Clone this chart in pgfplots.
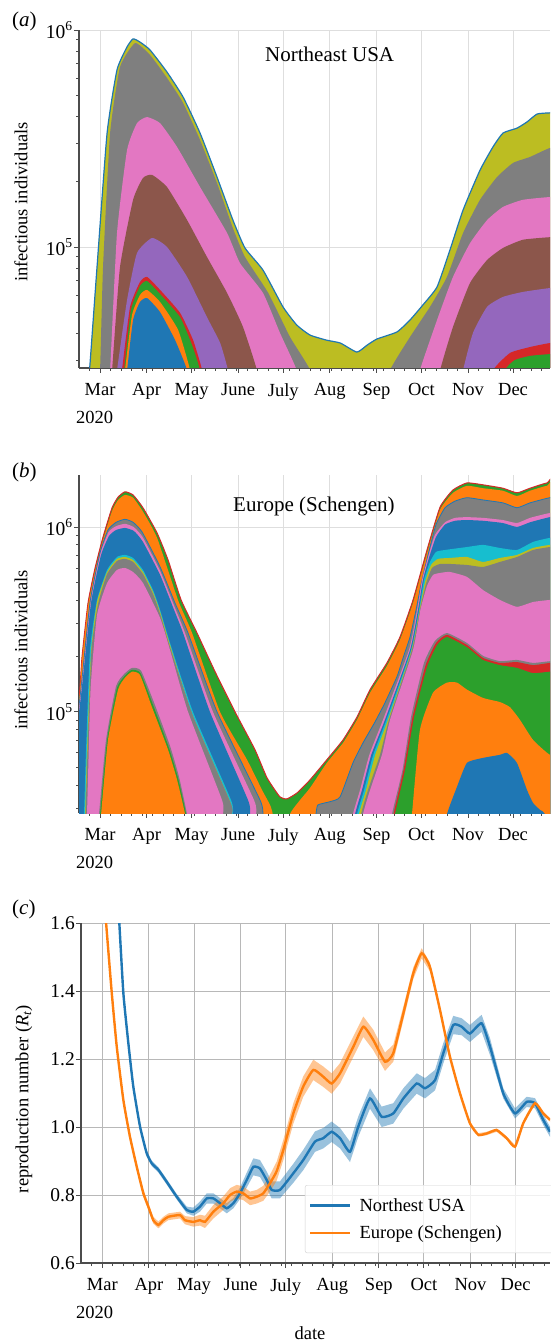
\documentclass[border=0pt]{standalone}
\usepackage{fontspec}
\setmainfont{Liberation Serif}
\usepackage{pgfplots}
\pgfplotsset{compat=1.18}
\usepackage{pgfplotstable}
\usepgfplotslibrary{fillbetween}

\definecolor{tblue}{HTML}{1F77B4}
\definecolor{torange}{HTML}{FF7F0E}
\definecolor{tgreen}{HTML}{2CA02C}
\definecolor{tred}{HTML}{D62728}
\definecolor{tpurple}{HTML}{9467BD}
\definecolor{tbrown}{HTML}{8C564B}
\definecolor{tpink}{HTML}{E377C2}
\definecolor{tgray}{HTML}{7F7F7F}
\definecolor{tolive}{HTML}{BCBD22}
\definecolor{tcyan}{HTML}{17BECF}

% reproduction number, Northeast USA (x = days since 1 Mar 2020)
\pgfplotstableread{
x y lo hi
8.7 1.800 1.792 1.808
11.3 1.600 1.592 1.608
14.0 1.393 1.385 1.401
17.3 1.247 1.239 1.255
20.6 1.119 1.111 1.127
25.1 1.001 0.993 1.009
29.5 0.923 0.915 0.931
32.9 0.893 0.885 0.901
37.3 0.874 0.866 0.882
42.8 0.839 0.831 0.847
49.5 0.795 0.787 0.803
56.2 0.756 0.746 0.766
60.5 0.751 0.739 0.763
65.0 0.766 0.751 0.781
69.5 0.790 0.775 0.805
73.9 0.790 0.775 0.805
78.3 0.776 0.761 0.791
82.8 0.761 0.746 0.776
87.2 0.776 0.761 0.791
91.6 0.805 0.788 0.822
96.1 0.844 0.822 0.866
100.5 0.883 0.858 0.908
104.9 0.878 0.853 0.903
109.4 0.844 0.819 0.869
112.7 0.815 0.790 0.840
118.2 0.815 0.790 0.840
127.1 0.864 0.836 0.892
133.7 0.903 0.873 0.933
141.5 0.957 0.927 0.987
147.0 0.967 0.937 0.997
152.6 0.986 0.956 1.016
158.2 0.967 0.937 0.997
164.8 0.927 0.897 0.957
170.3 1.001 0.971 1.031
178.1 1.084 1.054 1.114
185.9 1.030 1.000 1.060
193.6 1.040 1.010 1.070
200.3 1.084 1.054 1.114
209.2 1.128 1.098 1.158
214.7 1.114 1.084 1.144
221.4 1.138 1.108 1.168
226.9 1.217 1.187 1.247
233.5 1.300 1.273 1.327
239.1 1.295 1.270 1.320
244.6 1.275 1.250 1.300
252.4 1.305 1.280 1.330
258.0 1.236 1.211 1.261
266.8 1.099 1.084 1.114
274.6 1.040 1.025 1.055
282.4 1.074 1.059 1.089
287.9 1.070 1.055 1.085
293.4 1.021 1.006 1.036
297.9 0.986 0.971 1.001
}\usa

% reproduction number, Europe (Schengen)
\pgfplotstableread{
x y lo hi
0.0 1.740 1.730 1.750
2.5 1.600 1.590 1.610
6.3 1.393 1.383 1.403
9.6 1.236 1.226 1.246
14.0 1.079 1.069 1.089
18.4 0.971 0.961 0.981
22.9 0.883 0.873 0.893
27.3 0.805 0.795 0.815
30.6 0.766 0.756 0.776
33.9 0.726 0.716 0.736
37.3 0.712 0.702 0.722
40.6 0.726 0.716 0.736
43.9 0.736 0.726 0.746
51.7 0.741 0.731 0.751
55.0 0.726 0.714 0.738
60.5 0.721 0.707 0.735
65.0 0.726 0.710 0.742
68.3 0.721 0.703 0.739
73.9 0.751 0.731 0.771
80.5 0.776 0.756 0.796
85.0 0.800 0.780 0.820
89.4 0.810 0.790 0.830
93.8 0.805 0.785 0.825
98.3 0.790 0.770 0.810
102.7 0.795 0.775 0.815
107.1 0.805 0.783 0.827
111.6 0.835 0.810 0.860
116.0 0.870 0.842 0.898
120.4 0.932 0.902 0.962
127.1 1.040 1.010 1.070
133.7 1.119 1.089 1.149
140.4 1.168 1.138 1.198
147.0 1.148 1.118 1.178
152.6 1.128 1.098 1.158
158.2 1.158 1.128 1.188
167.0 1.236 1.206 1.266
173.7 1.295 1.265 1.325
180.3 1.256 1.226 1.286
188.1 1.192 1.165 1.219
193.6 1.217 1.192 1.242
200.3 1.334 1.314 1.354
206.9 1.452 1.435 1.469
212.5 1.511 1.496 1.526
218.0 1.471 1.458 1.484
224.7 1.344 1.334 1.354
231.3 1.207 1.200 1.214
238.0 1.099 1.094 1.104
244.6 1.011 1.006 1.016
250.2 0.977 0.972 0.982
255.8 0.981 0.976 0.986
262.4 0.991 0.986 0.996
269.1 0.967 0.962 0.972
274.6 0.942 0.937 0.947
280.1 1.011 1.006 1.016
287.9 1.070 1.065 1.075
293.4 1.040 1.035 1.045
297.9 1.021 1.016 1.026
}\eur

\pgfplotsset{
  panel/.style={
    scale only axis, width=471pt, height=338pt,
    axis lines=left, axis line style={-, draw=black!70, line width=1.1pt},
    tick align=outside, major tick length=5pt, minor tick length=3pt,
    tick style={draw=black!70, line width=0.9pt},
    xmin=-14, xmax=299.6,
    xtick={0,31,61,92,122,153,184,214,245,275},
    xticklabels={Mar,Apr,May,June,July,Aug,Sep,Oct,Nov,Dec},
    minor xtick={-7,7,14,...,294},
    xmajorgrids, ymajorgrids,
    grid style={draw=black!13, line width=0.9pt},
    tick label style={font=\fontsize{18.5}{22}\selectfont},
    yticklabel style={font=\fontsize{19.5}{23}\selectfont, inner xsep=1pt},
    xticklabel style={yshift=-7pt},
  },
  area/.style={draw=none, fill=#1, smooth, tension=0.3},
}

\newcommand{\lab}{\fontsize{18.5}{22}\selectfont}
\newcommand{\bigfont}{\fontsize{21}{25}\selectfont}

\begin{document}
\begin{tikzpicture}

% ---------------- (a) Northeast USA
\begin{axis}[panel, at={(79pt,-368pt)}, anchor=south west,
  ymode=log, ymin=2.77e4, ymax=1e6,
  ytick={1e5,1e6}, yticklabels={10\textsuperscript{5},10\textsuperscript{6}},
  minor ytick={3e4,4e4,5e4,6e4,7e4,8e4,9e4,2e5,3e5,4e5,5e5,6e5,7e5,8e5,9e5}]
\addplot[fill=tolive, draw=tblue, line width=1.2pt, smooth, tension=0.3] coordinates {
 (-20,2e4) (-9,2e4) (-7,2.7e4) (-2,8.09e4) (4.7,3.35e5) (11.3,6.55e5) (18,8.36e5) (22,9.1e5)
 (26.6,8.8e5) (33.3,8.09e5) (44.6,6.4e5) (55.3,4.91e5) (66.6,3.35e5) (77.9,2.1e5)
 (88.5,1.33e5) (96.5,9.9e4) (108.5,7.83e4) (121.8,5.3e4) (131,4.37e4) (139.8,3.93e4)
 (151,3.72e4) (160,3.61e4) (171,3.28e4) (177.8,3.53e4) (184.4,3.77e4) (197.7,4.06e4)
 (206.4,4.61e4) (215,5.41e4) (224.4,6.55e4) (233,9.7e4) (241.7,1.48e5) (253,2.26e5)
 (261.6,2.89e5) (268.3,3.35e5) (277.6,3.53e5) (284.3,3.77e5) (291,4.1e5) (299.6,4.15e5)
 (310,4.15e5) (310,2e4)};
\addplot[area=tgray] coordinates {
 (-20,2e4) (-2,2e4) (0,2.7e4) (2,8.1e4) (6.7,3.35e5) (13.3,6.75e5) (23.3,8.7e5) (33.3,7.67e5)
 (44.6,6.01e5) (55.3,4.61e5) (66.6,3.11e5) (77.9,1.97e5) (88.5,1.22e5) (96.5,9.0e4)
 (112,6.14e4) (126.5,3.85e4) (140,2.7e4) (142,2e4) (191,2e4) (193,2.7e4) (206.4,3.85e4)
 (219.7,5.3e4) (231,7.28e4) (241.7,1.16e5) (253,1.65e5) (264.3,2.1e5) (275,2.44e5)
 (286.3,2.6e5) (299.6,2.86e5) (310,2.86e5) (310,2e4)};
\addplot[area=tpink] coordinates {
 (-20,2e4) (4.7,2e4) (6.7,2.7e4) (11.3,1.16e5) (18,2.8e5) (24.6,3.72e5) (31.3,3.97e5)
 (40,3.72e5) (51.3,2.89e5) (66.6,1.89e5) (84.6,1.16e5) (93.2,8.43e4) (108.5,6.14e4)
 (119.8,4.02e4) (131,2.7e4) (133,2e4) (211,2e4) (213,2.7e4) (224.4,4.61e4) (235,7.28e4)
 (246.3,1.04e5) (257.7,1.33e5) (268.3,1.53e5) (281.6,1.65e5) (299.6,1.7e5) (310,1.7e5)
 (310,2e4)};
\addplot[area=tbrown] coordinates {
 (-20,2e4) (6,2e4) (8,2.7e4) (13.3,8.09e4) (22,1.65e5) (28.6,2.08e5) (34.6,2.15e5)
 (44.6,1.89e5) (58,1.33e5) (71.2,9.0e4) (84.6,6.14e4) (95.2,4.28e4) (104.5,2.7e4)
 (106.5,2e4) (224.4,2e4) (226.4,2.7e4) (235,4.28e4) (246.3,6.82e4) (257.7,8.71e4)
 (268.3,9.9e4) (281.6,1.08e5) (299.6,1.11e5) (310,1.11e5) (310,2e4)};
\addplot[area=tpurple] coordinates {
 (-20,2e4) (9.3,2e4) (11.3,2.7e4) (18,5.7e4) (24.6,9.38e4) (34.6,1.1e5) (44.6,1.0e5)
 (58,7.28e4) (71.2,4.75e4) (80,3.61e4) (85.2,2.7e4) (87.2,2e4) (239.7,2e4) (241.7,2.7e4)
 (248.3,4.02e4) (257.7,5.3e4) (268.3,5.89e4) (281.6,6.21e4) (299.6,6.47e4)
 (310,6.47e4) (310,2e4)};
\addplot[area=tred] coordinates {
 (-20,2e4) (12.6,2e4) (14.6,2.7e4) (20,5.3e4) (26.6,6.9e4) (31.3,7.28e4) (40,6.34e4)
 (53.3,4.97e4) (62,3.72e4) (68,2.7e4) (70,2e4) (259.6,2e4) (261.6,2.7e4) (273,3.25e4)
 (286.3,3.46e4) (299.6,3.61e4) (310,3.61e4) (310,2e4)};
\addplot[area=tgreen] coordinates {
 (-20,2e4) (14,2e4) (16,2.7e4) (20.6,5.13e4) (26.6,6.61e4) (31.3,6.97e4) (40,6.07e4)
 (53.3,4.75e4) (61.3,3.53e4) (66.6,2.7e4) (68.6,2e4) (267.6,2e4) (269.6,2.7e4) (276,3.01e4)
 (286.3,3.15e4) (299.6,3.21e4) (310,3.21e4) (310,2e4)};
\addplot[area=torange] coordinates {
 (-20,2e4) (14.6,2e4) (16.6,2.7e4) (21.3,4.86e4) (26.6,6.01e4) (31.3,6.34e4) (40,5.58e4)
 (52,4.15e4) (60,2.7e4) (62,2e4) (310,2e4)};
\addplot[area=tblue] coordinates {
 (-20,2e4) (16,2e4) (18,2.7e4) (22,4.61e4) (26.6,5.58e4) (31.3,5.82e4) (40,5.01e4)
 (50,3.72e4) (58,2.7e4) (60,2e4) (310,2e4)};
\end{axis}

% ---------------- (b) Europe (Schengen)
\begin{axis}[panel, at={(79pt,-813pt)}, anchor=south west,
  ymode=log, ymin=2.84e4, ymax=1.91e6,
  ytick={1e5,1e6}, yticklabels={10\textsuperscript{5},10\textsuperscript{6}},
  minor ytick={3e4,4e4,5e4,6e4,7e4,8e4,9e4,2e5,3e5,4e5,5e5,6e5,7e5,8e5,9e5}]
\addplot[fill=tgreen, draw=tred, line width=1pt, smooth, tension=0.3] coordinates {
 (-20,2e4) (-20,1.0e5) (-14,1.21e5) (-12,1.98e5) (-8,3.88e5) (-3.3,6.0e5) (2,8.83e5)
 (8,1.27e6) (12,1.45e6) (16.6,1.55e6) (22,1.49e6) (28.6,1.27e6) (38,9.28e5)
 (45.3,6.63e5) (54,4.03e5) (64.6,2.67e5) (76.6,1.65e5) (89.9,1.0e5) (103.2,6.24e4)
 (111.2,4.4e4) (119.8,3.47e4) (124.5,3.39e4) (131.2,3.65e4) (139.8,4.29e4) (151,5.51e4)
 (161.8,7.06e4) (171.1,9.39e4) (179.8,1.32e5) (191,1.84e5) (199.7,2.54e5) (208.4,4.03e5)
 (217.7,7.51e5) (226.4,1.28e6) (235,1.585e6) (244.3,1.73e6) (255,1.69e6) (268.3,1.62e6)
 (277.6,1.53e6) (286.3,1.62e6) (297.6,1.73e6) (310,1.75e6) (310,2e4)};
\addplot[area=torange] coordinates {
 (-20,2e4) (-20,0.96e5) (-14,1.16e5) (-12,1.91e5) (-8,3.74e5) (-3.3,5.79e5) (2,8.51e5)
 (8,1.22e6) (12,1.40e6) (16.6,1.49e6) (22,1.44e6) (28.6,1.21e6) (38,8.73e5)
 (51.9,4.03e5) (61.3,2.67e5) (79.9,1.0e5) (97.9,5.51e4) (107.9,3.78e4) (113.2,3.14e4)
 (115,2.8e4) (117,2e4) (124.5,2e4) (126.5,2.8e4) (133.2,3.34e4) (139.8,3.88e4) (151,5.30e4)
 (161.8,6.80e4) (171.1,9.06e4) (179.8,1.27e5) (191,1.77e5) (199.7,2.45e5) (208.4,3.88e5)
 (217.7,7.23e5) (226.4,1.24e6) (235,1.53e6) (244.3,1.67e6) (255,1.62e6) (268.3,1.57e6)
 (277.6,1.47e6) (286.3,1.57e6) (297.6,1.67e6) (310,1.69e6) (310,2e4)};
\addplot[fill=tgray, draw=tblue, line width=0.8pt, smooth, tension=0.3] coordinates {
 (-20,2e4) (-20,0.9e5) (-14,1.08e5) (-6.7,3.88e5) (0,7.23e5) (5.3,9.63e5) (10.7,1.06e6)
 (16.6,1.10e6) (22,1.06e6) (28,9.39e5) (40,6.08e5) (49.9,3.88e5) (58.6,2.67e5)
 (77.9,1.0e5) (106.5,3.34e4) (108.5,2.8e4) (110.5,2e4) (141.8,2e4) (143.8,2.8e4)
 (145.1,3.14e4) (153.1,3.27e4) (159.8,3.47e4) (168.4,5.30e4) (175.1,6.80e4)
 (183.1,8.83e4) (189.7,1.12e5) (197.7,1.55e5) (202.4,2.03e5) (206.4,2.54e5)
 (210.4,3.56e5) (213.7,4.86e5) (218.4,7.06e5) (223.7,1.03e6) (229.7,1.27e6)
 (236.4,1.38e6) (244.3,1.44e6) (255,1.40e6) (268.3,1.35e6) (277.6,1.27e6)
 (286.3,1.35e6) (299.6,1.44e6) (310,1.45e6) (310,2e4)};
\addplot[area=tpink] coordinates {
 (-20,2e4) (-20,0.86e5) (-14,1.04e5) (-6.3,3.88e5) (0.3,7.2e5) (5.7,9.39e5) (10.7,1.01e6)
 (16.6,1.04e6) (22.3,1.0e6) (28.3,8.83e5) (40,5.79e5) (49.6,3.70e5) (56.6,2.67e5)
 (75.2,1.0e5) (102.5,3.34e4) (104,2.8e4) (106,2e4) (166.4,2e4) (168.4,2.8e4) (173.1,3.78e4)
 (179.3,5.86e4) (188.4,9.06e4) (205.7,2.16e5) (211.1,3.56e5) (214.4,5.17e5)
 (218.4,6.88e5) (223,9.06e5) (229.7,1.06e6) (236.4,1.12e6) (244.3,1.13e6) (255,1.12e6)
 (268.3,1.09e6) (277.6,1.05e6) (286.3,1.12e6) (299.6,1.19e6) (310,1.2e6) (310,2e4)};
\addplot[area=tblue] coordinates {
 (-20,2e4) (-20,0.82e5) (-14,1.0e5) (-6,3.88e5) (0.7,7.06e5) (6,8.94e5) (10.7,9.63e5)
 (16.6,9.88e5) (22.6,9.51e5) (28.6,8.30e5) (40,5.50e5) (49.3,3.56e5) (55.3,2.67e5)
 (73.2,1.0e5) (98.5,3.34e4) (100,2.8e4) (102,2e4) (167.8,2e4) (169.8,2.8e4) (174.4,3.78e4)
 (180.6,5.86e4) (189.7,9.06e4) (206.4,2.16e5) (211.7,3.56e5) (215,5.17e5) (219,6.80e5)
 (223.7,8.83e5) (229.7,1.03e6) (236.4,1.08e6) (244.3,1.09e6) (255,1.08e6)
 (268.3,1.05e6) (277.6,1.0e6) (286.3,1.06e6) (299.6,1.13e6) (310,1.13e6) (310,2e4)};
\addplot[area=tcyan] coordinates {
 (-20,2e4) (-12.7,2e4) (-10.7,2.8e4) (-9.3,6.24e4) (-6.7,2.16e5) (-2,4.03e5) (4.7,5.86e5)
 (11.3,6.88e5) (16.6,7.06e5) (22,6.80e5) (28.6,5.86e5) (35.3,4.56e5) (40,3.56e5)
 (46.6,2.36e5) (61.9,1.0e5) (87.2,3.34e4) (88.5,2.8e4) (90.5,2e4) (169.1,2e4) (171.1,2.8e4)
 (175.8,3.78e4) (181.9,5.86e4) (190.7,9.06e4) (207.1,2.16e5) (212.4,3.56e5)
 (215.7,5.17e5) (219.7,6.47e5) (223.7,7.33e5) (229.7,7.51e5) (244.3,7.79e5) (255,8.0e5)
 (266.3,7.70e5) (277.6,7.51e5) (288.3,8.30e5) (299.6,8.73e5) (310,8.8e5) (310,2e4)};
\addplot[area=tolive] coordinates {
 (-20,2e4) (-12,2e4) (-10,2.8e4) (-8.7,6.1e4) (-6,2.11e5) (-2,3.93e5) (4.7,5.71e5)
 (11.3,6.72e5) (16.6,6.88e5) (22,6.63e5) (28.6,5.71e5) (35.3,4.45e5) (40,3.47e5)
 (46.6,2.30e5) (61.3,9.76e4) (86.6,3.27e4) (87.5,2.8e4) (89.5,2e4) (170.4,2e4) (172.4,2.8e4)
 (177.1,3.78e4) (183.2,5.86e4) (191.7,9.06e4) (207.4,2.16e5) (212.7,3.56e5)
 (216.4,5.05e5) (220.4,6.23e5) (225,6.72e5) (233,6.80e5) (244.3,6.88e5) (255,6.47e5)
 (266.3,6.80e5) (277.6,7.06e5) (288.3,7.70e5) (299.6,8.0e5) (310,8.0e5) (310,2e4)};
\addplot[area=tgray] coordinates {
 (-20,2e4) (-11.7,2e4) (-9.7,2.8e4) (-8.3,6.24e4) (-5.7,2.16e5) (-1.3,3.84e5) (4.7,5.57e5)
 (11.3,6.55e5) (16.6,6.72e5) (22,6.47e5) (28.6,5.57e5) (35.3,4.34e5) (40,3.39e5)
 (46.6,2.24e5) (61.9,9.51e4) (87.2,3.18e4) (87.9,2.8e4) (89.9,2e4) (171.8,2e4) (173.8,2.8e4)
 (178.4,3.78e4) (186.4,5.86e4) (192.4,9.06e4) (207.7,2.16e5) (213,3.56e5) (217,4.92e5)
 (221,6.0e5) (226.4,6.31e5) (233,6.31e5) (244.3,6.23e5) (255,6.08e5) (266.3,6.47e5)
 (277.6,6.88e5) (288.3,7.51e5) (299.6,7.79e5) (310,7.8e5) (310,2e4)};
\addplot[area=tpink] coordinates {
 (-20,2e4) (-10.7,2e4) (-8.7,2.8e4) (-6.3,1.32e5) (-2,3.34e5) (4.7,4.98e5) (11.3,5.86e5)
 (16.6,6.0e5) (22,5.71e5) (28.6,4.98e5) (40,3.22e5) (46.6,2.16e5) (58.6,1.0e5)
 (81.2,3.34e4) (81.9,2.8e4) (83.9,2e4) (173.1,2e4) (175.1,2.8e4) (179.8,3.78e4)
 (187.7,5.86e4) (193.1,9.06e4) (208.4,2.16e5) (213.3,3.56e5) (217.7,4.80e5)
 (221.7,5.50e5) (226.4,5.64e5) (233,5.71e5) (244.3,5.37e5) (255,4.56e5) (266.3,4.03e5)
 (277.6,3.70e5) (288.3,3.93e5) (299.6,4.03e5) (310,4.03e5) (310,2e4)};
\addplot[area=tgray] coordinates {
 (-20,2e4) (-2.7,2e4) (-0.7,2.8e4) (4,7.06e4) (10.7,1.38e5) (16,1.60e5) (21.3,1.73e5)
 (27.3,1.67e5) (36,1.12e5) (46.6,6.55e4) (52.6,4.45e4) (57.9,2.8e4) (59.9,2e4) (192.4,2e4)
 (194.4,2.8e4) (201.4,4.86e4) (207.1,9.39e4) (215.7,1.84e5) (223,2.42e5) (231,2.67e5)
 (244.3,2.36e5) (255,2.01e5) (266.3,1.88e5) (277.6,1.91e5) (288.3,1.84e5) (299.6,1.88e5)
 (310,1.88e5) (310,2e4)};
\addplot[area=tred] coordinates {
 (-20,2e4) (193.4,2e4) (195.4,2.8e4) (202.1,4.86e4) (208.1,9.39e4) (216.8,1.79e5)
 (223.7,2.36e5) (231,2.61e5) (244.3,2.30e5) (255,1.96e5) (266.3,1.84e5) (277.6,1.86e5)
 (288.3,1.79e5) (299.6,1.84e5) (310,1.84e5) (310,2e4)};
\addplot[area=tgreen] coordinates {
 (-20,2e4) (-2,2e4) (0,2.8e4) (4.7,7.06e4) (11.3,1.35e5) (16.6,1.57e5) (21.3,1.69e5)
 (27,1.62e5) (35.3,1.09e5) (45.9,6.39e4) (51.9,4.40e4) (57.3,2.8e4) (59.3,2e4) (194.4,2e4)
 (196.4,2.8e4) (203.1,4.86e4) (209.1,9.39e4) (217.7,1.75e5) (224.4,2.30e5) (231,2.54e5)
 (244.3,2.24e5) (255,1.91e5) (266.3,1.79e5) (277.6,1.73e5) (288.3,1.62e5) (299.6,1.65e5)
 (310,1.65e5) (310,2e4)};
\addplot[area=torange] coordinates {
 (-20,2e4) (-1.3,2e4) (0.7,2.8e4) (5.3,7.06e4) (12,1.32e5) (16.6,1.53e5) (21.3,1.65e5)
 (26.6,1.585e5) (34.6,1.06e5) (45.3,6.24e4) (51.3,4.29e4) (56.6,2.8e4) (58.6,2e4)
 (205.7,2e4) (207.7,2.8e4) (213,8.0e4) (221.7,1.27e5) (231,1.44e5) (237.7,1.44e5)
 (244.3,1.32e5) (255,1.19e5) (266.3,1.13e5) (273,1.06e5) (279.6,9.06e4) (288.3,7.06e4)
 (299.6,5.86e4) (310,5.86e4) (310,2e4)};
\addplot[area=tblue] coordinates {
 (-20,2e4) (229,2e4) (231,2.8e4) (237.7,3.94e4) (244.3,5.30e4) (255,5.64e4) (266.3,5.86e4)
 (271,6.0e4) (277.6,5.30e4) (284.3,3.78e4) (288.3,3.22e4) (293,2.95e4) (296.3,2.8e4)
 (298.3,2e4) (310,2e4)};
\end{axis}

% ---------------- (c) reproduction number
\begin{axis}[panel, at={(81pt,-1263pt)}, anchor=south west,
  width=469pt, height=340pt, xmin=-14.2, xmax=297.9,
  ymin=0.6, ymax=1.6, ytick={0.6,0.8,1.0,1.2,1.4,1.6},
  yticklabels={0.6,0.8,1.0,1.2,1.4,1.6},
  grid style={draw=black!28, line width=0.9pt},
  legend style={at={(0.4776,0.2294)}, anchor=north west, draw=black!18,
    fill=white, fill opacity=0.8, text opacity=1, rounded corners=2pt,
    font=\lab, row sep=9pt, column sep=6pt, inner xsep=4pt, inner ysep=11pt},
  legend cell align=left,
  legend image code/.code={\draw[#1, line width=2.4pt] (0pt,0pt) -- (40pt,0pt);}]
\addplot[name path=ua, draw=none, forget plot] table[x=x, y=hi] {\usa};
\addplot[name path=ub, draw=none, forget plot] table[x=x, y=lo] {\usa};
\addplot[fill=tblue, fill opacity=0.45, draw=none, forget plot] fill between[of=ua and ub];
\addplot[tblue, line width=2.4pt, smooth, tension=0.3] table[x=x, y=y] {\usa};
\addlegendentry{Northest USA}
\addplot[name path=ea, draw=none, forget plot] table[x=x, y=hi] {\eur};
\addplot[name path=eb, draw=none, forget plot] table[x=x, y=lo] {\eur};
\addplot[fill=torange, fill opacity=0.45, draw=none, forget plot] fill between[of=ea and eb];
\addplot[torange, line width=2.4pt, smooth, tension=0.3] table[x=x, y=y] {\eur};
\addlegendentry{Europe (Schengen)\hspace*{70pt}}
\end{axis}

% ---------------- texts
\node[anchor=base west, inner sep=0, font=\bigfont] at (12pt,-27pt) {(\textit{a})};
\node[anchor=base west, inner sep=0, font=\bigfont] at (12pt,-477pt) {(\textit{b})};
\node[anchor=base west, inner sep=0, font=\bigfont] at (12pt,-914pt) {(\textit{c})};
\node[anchor=base west, inner sep=0, font=\bigfont] at (265pt,-61pt) {Northeast USA};
\node[anchor=base west, inner sep=0, font=\bigfont] at (233pt,-511pt) {Europe (Schengen)};
\node[rotate=90, font=\lab] at (21pt,-202pt) {infectious individuals};
\node[rotate=90, font=\lab] at (21pt,-650pt) {infectious individuals};
\node[rotate=90, font=\lab] at (24pt,-1099pt) {reproduction number (\textit{R}\textsubscript{\textit{t}})};
\node[anchor=base, font=\lab] at (94.5pt,-423pt) {2020};
\node[anchor=base, font=\lab] at (94.5pt,-868pt) {2020};
\node[anchor=base, font=\lab] at (94.5pt,-1318pt) {2020};
\node[font=\lab] at (310pt,-1333pt) {date};

\pgfresetboundingbox
\path[use as bounding box] (0,0) rectangle (550pt,-1341pt);
\end{tikzpicture}
\end{document}
